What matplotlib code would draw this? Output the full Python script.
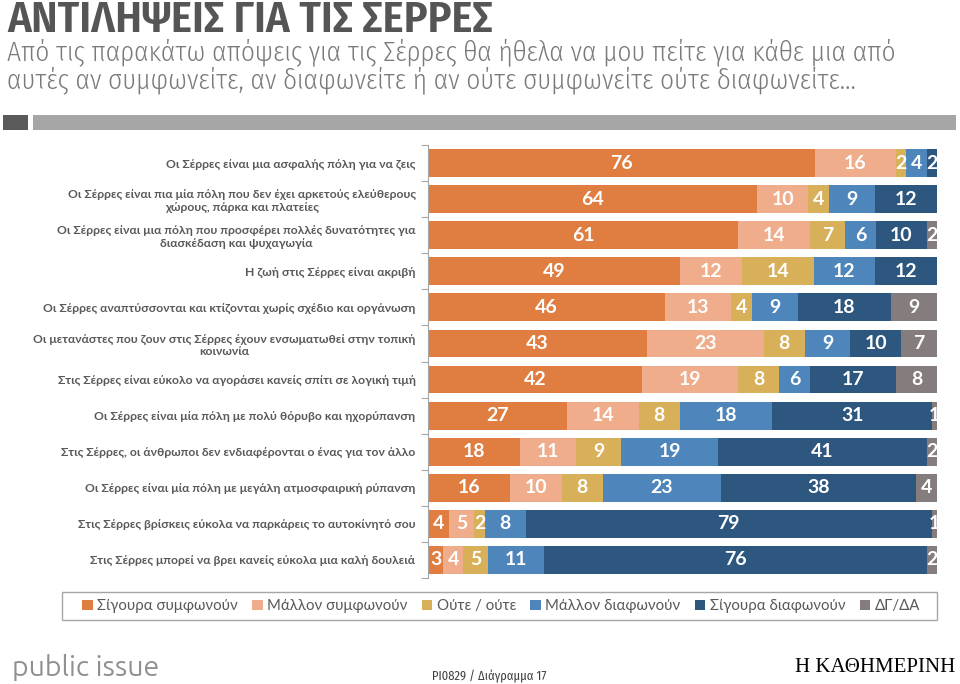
import matplotlib

matplotlib.use("Agg")
import matplotlib.pyplot as plt
from matplotlib.patches import Patch, Rectangle
import numpy as np

plt.rcParams["font.family"] = ["Lato", "DejaVu Sans"]

statements = [
    "Οι Σέρρες είναι μια ασφαλής πόλη για να ζεις",
    "Οι Σέρρες είναι πια μία πόλη που δεν έχει αρκετούς ελεύθερους\nχώρους, πάρκα και πλατείες",
    "Οι Σέρρες είναι μια πόλη που προσφέρει πολλές δυνατότητες για\nδιασκέδαση και ψυχαγωγία",
    "Η ζωή στις Σέρρες είναι ακριβή",
    "Οι Σέρρες αναπτύσσονται και κτίζονται χωρίς σχέδιο και οργάνωση",
    "Οι μετανάστες που ζουν στις Σέρρες έχουν ενσωματωθεί στην τοπική\nκοινωνία",
    "Στις Σέρρες είναι εύκολο να αγοράσει κανείς σπίτι σε λογική τιμή",
    "Οι Σέρρες είναι μία πόλη με πολύ θόρυβο και ηχορύπανση",
    "Στις Σέρρες, οι άνθρωποι δεν ενδιαφέρονται ο ένας για τον άλλο",
    "Οι Σέρρες είναι μία πόλη με μεγάλη ατμοσφαιρική ρύπανση",
    "Στις Σέρρες βρίσκεις εύκολα να παρκάρεις το αυτοκίνητό σου",
    "Στις Σέρρες μπορεί να βρει κανείς εύκολα μια καλή δουλειά",
]

series_names = [
    "Σίγουρα συμφωνούν",
    "Μάλλον συμφωνούν",
    "Ούτε / ούτε",
    "Μάλλον διαφωνούν",
    "Σίγουρα διαφωνούν",
    "ΔΓ/ΔΑ",
]

definitely_agree = [76, 64, 61, 49, 46, 43, 42, 27, 18, 16, 4, 3]
rather_agree = [16, 10, 14, 12, 13, 23, 19, 14, 11, 10, 5, 4]
neither = [2, 4, 7, 14, 4, 8, 8, 8, 9, 8, 2, 5]
rather_disagree = [4, 9, 6, 12, 9, 9, 6, 18, 19, 23, 8, 11]
definitely_disagree = [2, 12, 10, 12, 18, 10, 17, 31, 41, 38, 79, 76]
dont_know = [0, 0, 2, 0, 9, 7, 8, 1, 2, 4, 1, 2]

colors = ["#E07E42", "#F0AD8C", "#D9B05A", "#4E86BC", "#2E5780", "#857D7D"]

values = np.array([definitely_agree, rather_agree, neither,
                   rather_disagree, definitely_disagree, dont_know], dtype=float)
# 100% stacked: each row scaled to its own total
shares = values / values.sum(axis=0) * 100.0

fig = plt.figure(figsize=(9.6, 6.84), dpi=100)

# header
cond = ["Fira Sans Condensed", "DejaVu Sans"]
fig.text(7 / 960, 1 - 32 / 684, "ΑΝΤΙΛΗΨΕΙΣ ΓΙΑ ΤΙΣ ΣΕΡΡΕΣ", fontsize=32,
         fontweight=600, family=cond, color="#555555", va="baseline", ha="left")
fig.text(7 / 960, 1 - 60 / 684,
         "Από τις παρακάτω απόψεις για τις Σέρρες θα ήθελα να μου πείτε για κάθε μια από",
         fontsize=19.6, fontweight=300, family=cond, color="#7a7a7a", va="baseline", ha="left")
fig.text(7 / 960, 1 - 88 / 684,
         "αυτές αν συμφωνείτε, αν διαφωνείτε ή αν ούτε συμφωνείτε ούτε διαφωνείτε…",
         fontsize=19.6, fontweight=300, family=cond, color="#7a7a7a", va="baseline", ha="left")
fig.add_artist(Rectangle((3 / 960, 1 - 130 / 684), 25 / 960, 15 / 684,
                         transform=fig.transFigure, color="#5a5a5a", lw=0))
fig.add_artist(Rectangle((33 / 960, 1 - 130 / 684), 923 / 960, 15 / 684,
                         transform=fig.transFigure, color="#a6a6a6", lw=0))

ax = fig.add_axes([428 / 960, 106 / 684, 509 / 960, 433 / 684])
y = np.arange(len(statements))
left = np.zeros(len(statements))
for k in range(len(series_names)):
    ax.barh(y, shares[k], left=left, height=0.77, color=colors[k], lw=0)
    for i in range(len(statements)):
        if values[k, i] > 0:
            ax.text(left[i] + shares[k, i] / 2, y[i], f"{int(values[k, i])}",
                    ha="center", va="center", color="white", fontsize=14,
                    fontweight="bold", clip_on=True)
    left += shares[k]

ax.set_xlim(0, 100)
ax.set_ylim(len(statements) - 0.5, -0.5)
ax.set_xticks([])
ax.set_yticks(y)
ax.set_yticklabels(statements, fontsize=8.7, fontweight="bold", color="#595959")
for lbl in ax.get_yticklabels():
    lbl.set_multialignment("center")
ax.tick_params(axis="y", which="major", length=0, pad=9)
ax.set_yticks(np.arange(-0.5, len(statements), 1.0), minor=True)
ax.tick_params(axis="y", which="minor", length=5, color="#a6a6a6", width=0.8)
for s in ["top", "right", "bottom"]:
    ax.spines[s].set_visible(False)
ax.spines["left"].set_color("#a6a6a6")
ax.spines["left"].set_linewidth(0.8)

# legend
fig.add_artist(Rectangle((62 / 960, 1 - 620 / 684), 875 / 960, 28 / 684,
                         transform=fig.transFigure, fill=False,
                         edgecolor="#a6a6a6", lw=1))
handles = [Patch(color=c, lw=0) for c in colors]
fig.legend(handles, series_names, loc="center", bbox_to_anchor=(501 / 960, 1 - 606 / 684),
           ncol=6, frameon=False, fontsize=10.8, handlelength=0.7, handleheight=0.7,
           handletextpad=0.3, columnspacing=0.95, labelcolor="#595959")

# footer
fig.text(12 / 960, 1 - 667 / 684, "public issue", fontsize=20.5,
         family=["Ubuntu", "Lato"], color="#909090", va="center", ha="left")
fig.text(489 / 960, 1 - 676 / 684, "PI0829 / Διάγραμμα 17", fontsize=9,
         family=cond, color="#404040", va="center", ha="center")
fig.text(955 / 960, 1 - 668 / 684, "Η ΚΑΘΗΜΕΡΙΝΗ", fontsize=15,
         family=["Liberation Serif", "DejaVu Serif"], color="black",
         va="center", ha="right")

fig.savefig("out.png", dpi=100)
